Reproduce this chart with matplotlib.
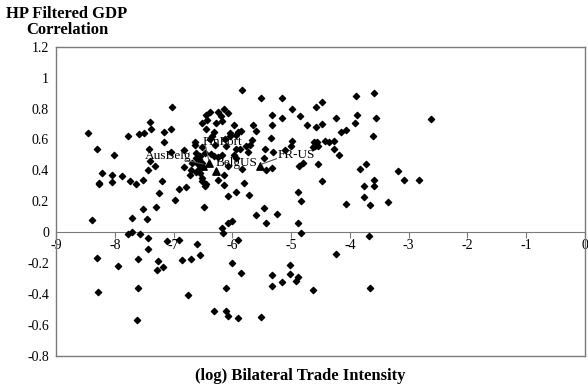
import numpy as np
import matplotlib.pyplot as plt

# bilateral trade intensity (log) and HP filtered GDP correlation
trade = [
    -8.45, -8.30, -8.02, -7.78, -7.58, -7.51, -7.40, -7.38, -7.17, -7.04, -7.02, -7.42,
    -7.16, -7.04, -7.40, -7.32, -7.43, -8.21, -8.04, -7.88, -8.26, -8.26, -8.05, -7.74,
    -7.64, -7.52, -7.19, -7.24, -6.91, -6.97, -6.82, -6.82,
    -8.38, -7.71, -7.52, -7.46, -7.30, -7.78, -7.71, -7.57, -7.44, -7.43, -7.11, -6.91,
    -8.30, -7.94, -7.60, -7.26, -7.29, -7.18, -6.85, -8.28, -7.61, -7.62,
    -6.71, -6.75, -6.60, -6.55, -6.48, -6.32, -6.18, -6.16, -6.08, -6.07, -6.01, -6.10,
    -6.10, -6.08, -6.01, -5.91, -5.90, -5.85, -5.94, -5.72, -5.59, -5.46, -5.42, -5.24,
    -5.51, -5.33, -5.32, -5.15, -5.02, -5.02, -4.92, -4.89, -4.89, -4.88, -4.84, -4.83,
    -4.63, -4.06, -3.65, -3.35, -3.76, -3.67, -4.24, -3.65,
    -5.83, -5.51, -5.16, -4.99, -5.32, -5.15, -4.85, -4.73, -4.58, -4.48, -4.57, -4.47,
    -4.24, -3.90, -3.59, -3.88, -3.56, -3.91, -3.61, -2.62, -4.15, -4.07, -4.99, -5.00,
    -4.61, -4.56, -4.60, -4.54, -4.62,
    -4.43, -4.35, -4.27, -4.27, -4.19, -4.86, -4.79, -4.54, -3.82, -3.72, -3.18, -3.08,
    -2.83, -4.48, -3.59, -3.59, -3.76,
    -6.14, -6.24, -6.38, -6.45, -6.43, -6.20, -6.07, -6.18, -6.27, -6.52, -6.45, -5.97,
    -5.90, -5.86, -5.93, -5.65, -5.60, -5.32, -6.04, -6.64,
    -6.51, -5.67, -5.70, -5.77, -5.73, -5.87, -5.45, -5.34, -5.30, -5.46, -5.42, -5.33,
    -5.11,
    -6.61, -6.55, -6.62, -6.57, -6.47, -6.36, -6.31, -6.25, -6.52, -6.55, -6.59, -6.57,
    -6.69, -6.70, -6.72, -6.61, -6.55, -6.51, -6.44, -6.51, -6.15, -6.24, -6.07, -5.97,
    -5.94, -5.84, -5.81, -6.78, -6.13, -6.38, -6.30, -6.35, -6.31, -6.17, -6.10, -5.94,
    -6.47, -6.14, -6.04, -6.64,
]
corr = [
    0.64, 0.54, 0.50, 0.62, 0.635, 0.64, 0.71, 0.67, 0.65, 0.665, 0.81, 0.535,
    0.58, 0.52, 0.46, 0.43, 0.40, 0.38, 0.37, 0.36, 0.32, 0.31, 0.325, 0.33,
    0.31, 0.34, 0.33, 0.255, 0.28, 0.21, 0.42, 0.53,
    0.08, 0.09, 0.15, 0.083, 0.16, -0.015, 0.0, -0.015, -0.04, -0.11, -0.055, -0.05,
    -0.165, -0.22, -0.175, -0.19, -0.245, -0.225, -0.18, -0.39, -0.365, -0.57,
    -0.175, -0.41, -0.075, -0.145, 0.165, -0.51, 0.025, -0.005, 0.235, 0.06, 0.075, -0.365,
    -0.51, -0.54, -0.20, -0.555, -0.05, -0.265, 0.26, 0.24, 0.11, 0.155, 0.06, 0.12,
    -0.55, -0.28, -0.35, -0.32, -0.21, -0.27, -0.315, -0.29, 0.26, 0.06, -0.005, 0.20,
    -0.375, 0.18, 0.175, 0.195, 0.225, -0.025, -0.14, -0.365,
    0.92, 0.87, 0.87, 0.80, 0.76, 0.74, 0.75, 0.69, 0.68, 0.70, 0.81, 0.84,
    0.74, 0.88, 0.90, 0.76, 0.74, 0.705, 0.625, 0.73, 0.65, 0.66, 0.59, 0.555,
    0.58, 0.58, 0.56, 0.555, 0.55,
    0.59, 0.58, 0.59, 0.54, 0.50, 0.43, 0.445, 0.44, 0.41, 0.44, 0.395, 0.34,
    0.34, 0.33, 0.34, 0.30, 0.30,
    0.80, 0.78, 0.78, 0.755, 0.725, 0.75, 0.77, 0.72, 0.705, 0.705, 0.665, 0.69,
    0.65, 0.655, 0.63, 0.69, 0.655, 0.69, 0.62, 0.565,
    0.55, 0.595, 0.565, 0.555, 0.52, 0.54, 0.54, 0.61, 0.52, 0.48, 0.40, 0.415,
    0.53,
    0.51, 0.49, 0.48, 0.47, 0.515, 0.505, 0.495, 0.485, 0.445, 0.425, 0.44, 0.41,
    0.445, 0.40, 0.37, 0.39, 0.38, 0.35, 0.31, 0.33, 0.37, 0.34, 0.43, 0.50,
    0.48, 0.41, 0.32, 0.29, 0.60, 0.60, 0.565, 0.62, 0.65, 0.50, 0.555, 0.535,
    0.30, 0.305, 0.64, 0.585,
]

# highlighted country pairs
pair_names = ["AusBelg", "FinPort", "BelgUS", "FR-US"]
pair_trade = [-6.50, -6.40, -6.27, -5.53]
pair_corr = [0.43, 0.445, 0.395, 0.43]
label_pos = [(-7.49, 0.49), (-6.51, 0.585), (-6.28, 0.45), (-5.23, 0.50)]

xticks = [-9, -8, -7, -6, -5, -4, -3, -2, -1, 0]
yticks = [1.2, 1.0, 0.8, 0.6, 0.4, 0.2, 0.0, -0.2, -0.4, -0.6, -0.8]
ytick_labels = ["1.2", "1", "0.8", "0.6", "0.4", "0.2", "0", "-0.2", "-0.4", "-0.6", "-0.8"]

plt.rcParams['font.family'] = ['Liberation Serif', 'DejaVu Serif']

fig = plt.figure(figsize=(5.88, 3.85), dpi=100)
ax = fig.add_axes([0.0952, 0.0761, 0.8998, 0.8026])

frame = '#7a7a7a'
for s in ax.spines.values():
    s.set_color(frame)
    s.set_linewidth(1.0)

ax.scatter(trade, corr, marker='D', s=10, color='black', zorder=3)
ax.scatter(pair_trade, pair_corr, marker='^', s=28, color='black', zorder=4)

# labels with leader lines, text above the dots
ax.text(label_pos[0][0], label_pos[0][1], pair_names[0], fontsize=9.5, va='center', ha='left', zorder=6)
ax.plot([-6.78, pair_trade[0]], [0.465, pair_corr[0] + 0.01], color='#555555', lw=0.8, zorder=5)
ax.text(label_pos[1][0], label_pos[1][1], pair_names[1], fontsize=9.5, va='center', ha='left', zorder=6)
ax.plot([-6.46, pair_trade[1]], [0.56, pair_corr[1] + 0.02], color='#555555', lw=0.8, zorder=5)
ax.text(label_pos[2][0], label_pos[2][1], pair_names[2], fontsize=9.5, va='center', ha='left', zorder=6)
ax.text(label_pos[3][0], label_pos[3][1], pair_names[3], fontsize=9.5, va='center', ha='left', zorder=6)
ax.plot([-5.25, pair_trade[3] + 0.03], [0.475, pair_corr[3] + 0.01], color='#555555', lw=0.8, zorder=5)

ax.set_xlim(-9, 0)
ax.set_ylim(-0.8, 1.2)
ax.set_yticks(yticks)
ax.set_yticklabels(ytick_labels, fontsize=10)
ax.tick_params(axis='y', length=0, pad=5)
ax.set_xticks([])

# x axis drawn along the zero line
zero = ax.secondary_xaxis(0.4)
zero.set_xticks(xticks)
zero.set_xticklabels([str(t) for t in xticks], fontsize=10)
zero.tick_params(axis='x', length=4, color=frame, pad=1, direction='out')
zero.spines['bottom'].set_color(frame)

fig.text(0.114, 0.985, "HP Filtered GDP\nCorrelation", fontsize=12, fontweight='bold',
         ha='center', va='top', linespacing=1.0)
fig.text(0.51, 0.003, "(log) Bilateral Trade Intensity", fontsize=12, fontweight='bold',
         ha='center', va='bottom')

fig.savefig("out.png", dpi=100)
